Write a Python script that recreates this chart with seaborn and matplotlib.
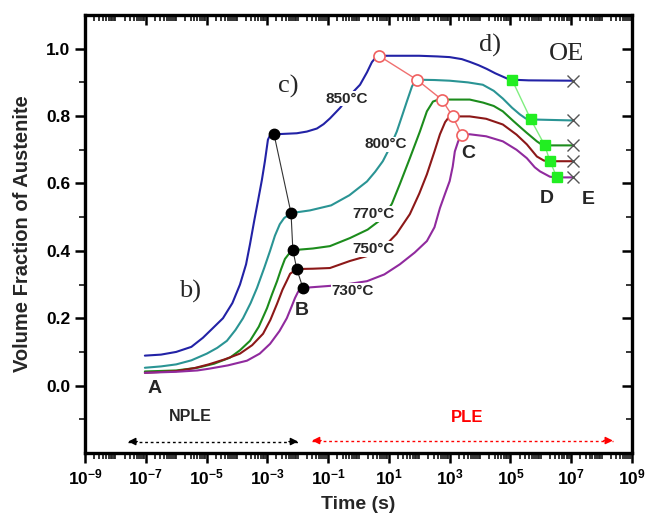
import numpy as np
import pandas as pd
import matplotlib
matplotlib.use("Agg")
import matplotlib.pyplot as plt
import seaborn as sns
from matplotlib.ticker import FixedLocator, FuncFormatter, NullFormatter

# ---------------- data (log10 of time in s, volume fraction) ----------------
temps = ["850", "800", "770", "750", "730"]

logt_850 = [-7.03, -6.5, -6.0, -5.5, -5.12, -4.8, -4.46, -4.15, -3.9, -3.7, -3.57, -3.43, -3.31,
            -3.18, -3.08, -2.98, -2.9, -2.78, -2.5, -2.03, -1.7, -1.37, -1.15, -0.94, -0.6, -0.3,
            0.05, 0.28, 0.44, 0.55, 0.67, 1.36, 2.0, 2.6, 3.0, 3.4, 3.66, 3.95, 4.22, 4.5, 4.75,
            4.9, 5.05, 5.6, 7.05]
v_850 = [0.089, 0.092, 0.100, 0.115, 0.142, 0.17, 0.20, 0.245, 0.30, 0.36, 0.42, 0.49, 0.547,
         0.61, 0.666, 0.73, 0.745, 0.746, 0.747, 0.749, 0.754, 0.763, 0.776, 0.793, 0.825, 0.86,
         0.893, 0.93, 0.96, 0.972, 0.979, 0.979, 0.979, 0.977, 0.975, 0.969, 0.961, 0.951, 0.94,
         0.927, 0.917, 0.911, 0.908, 0.906, 0.905]

logt_800 = [-7.03, -6.5, -6.0, -5.5, -4.99, -4.65, -4.33, -4.05, -3.8, -3.55, -3.34, -3.1, -2.91,
            -2.75, -2.59, -2.45, -2.36, -2.22, -1.6, -0.9, -0.3, 0.28, 0.55, 0.8, 1.05, 1.26, 1.45,
            1.59, 1.76, 1.85, 1.92, 2.5, 3.0, 3.6, 4.09, 4.45, 4.75, 5.05, 5.31, 5.5, 5.67, 7.05]
v_800 = [0.053, 0.057, 0.063, 0.075, 0.095, 0.112, 0.133, 0.165, 0.2, 0.245, 0.29, 0.35, 0.4,
         0.445, 0.479, 0.497, 0.503, 0.512, 0.52, 0.535, 0.565, 0.606, 0.635, 0.666, 0.71, 0.754,
         0.805, 0.843, 0.888, 0.902, 0.908, 0.907, 0.905, 0.9, 0.893, 0.875, 0.852, 0.825, 0.805,
         0.793, 0.79, 0.787]

logt_770 = [-7.03, -6.0, -5.3, -4.75, -4.23, -3.9, -3.57, -3.28, -3.01, -2.85, -2.68, -2.55, -2.42,
            -2.3, -2.16, -1.5, -0.94, -0.28, 0.3, 0.8, 1.1, 1.36, 1.69, 2.02, 2.25, 2.45, 2.6, 2.74,
            3.66, 4.1, 4.45, 4.75, 5.1, 5.35, 5.54, 5.87, 6.0, 6.13, 7.05]
v_770 = [0.042, 0.045, 0.053, 0.065, 0.083, 0.105, 0.133, 0.175, 0.23, 0.27, 0.31, 0.345, 0.376,
         0.39, 0.402, 0.407, 0.414, 0.438, 0.463, 0.497, 0.54, 0.598, 0.675, 0.754, 0.814, 0.843,
         0.848, 0.849, 0.849, 0.84, 0.83, 0.814, 0.785, 0.765, 0.75, 0.725, 0.717, 0.713, 0.713]

logt_750 = [-7.03, -6.0, -5.4, -4.93, -4.4, -3.9, -3.5, -3.14, -2.9, -2.68, -2.5, -2.36, -2.25,
            -2.03, -1.5, -0.94, -0.28, 0.3, 0.8, 1.25, 1.69, 2.0, 2.25, 2.5, 2.68, 2.85, 2.95, 3.1,
            3.66, 4.2, 4.75, 5.2, 5.54, 5.87, 6.1, 6.3, 7.05]
v_750 = [0.038, 0.043, 0.052, 0.063, 0.078, 0.095, 0.12, 0.154, 0.195, 0.243, 0.285, 0.311, 0.332,
         0.346, 0.347, 0.349, 0.37, 0.385, 0.408, 0.45, 0.509, 0.57, 0.627, 0.695, 0.746, 0.782,
         0.794, 0.799, 0.799, 0.792, 0.775, 0.745, 0.716, 0.68, 0.668, 0.666, 0.666]

logt_730 = [-7.03, -6.0, -5.3, -4.93, -4.3, -3.67, -3.25, -2.91, -2.6, -2.36, -2.2, -2.09, -1.98,
            -1.83, -0.94, -0.3, 0.28, 0.85, 1.36, 1.85, 2.25, 2.5, 2.68, 2.85, 3.0, 3.1, 3.17, 3.28,
            3.4, 3.66, 4.2, 4.75, 5.2, 5.54, 5.8, 5.97, 6.3, 6.53, 7.05]
v_730 = [0.038, 0.041, 0.045, 0.05, 0.06, 0.074, 0.095, 0.124, 0.162, 0.2, 0.235, 0.26, 0.28,
         0.29, 0.296, 0.302, 0.31, 0.33, 0.36, 0.395, 0.429, 0.47, 0.527, 0.57, 0.607, 0.65, 0.695,
         0.725, 0.743, 0.746, 0.74, 0.725, 0.70, 0.675, 0.648, 0.636, 0.62, 0.618, 0.618]

# characteristic points
B_logt = [-2.78, -2.22, -2.16, -2.03, -1.83]
B_v = [0.746, 0.512, 0.402, 0.346, 0.29]
C_logt = [0.67, 1.92, 2.74, 3.1, 3.4]
C_v = [0.979, 0.908, 0.849, 0.799, 0.743]
D_logt = [5.05, 5.67, 6.13, 6.3, 6.53]
D_v = [0.908, 0.79, 0.713, 0.666, 0.618]
E_logt = [7.05, 7.05, 7.05, 7.05, 7.05]
E_v = [0.905, 0.787, 0.713, 0.666, 0.618]

temp_labels = ["850°C", "800°C", "770°C", "750°C", "730°C"]
x_tick_exps = [-9, -7, -5, -3, -1, 1, 3, 5, 7, 9]
y_ticks = [0.0, 0.2, 0.4, 0.6, 0.8, 1.0]

colors = {"850": "#2222a6", "800": "#2a9494", "770": "#1c8c1c", "750": "#8c1818", "730": "#902a9e"}

# ---------------- build table ----------------
series = {"850": (logt_850, v_850), "800": (logt_800, v_800), "770": (logt_770, v_770),
          "750": (logt_750, v_750), "730": (logt_730, v_730)}
rows = []
for k in temps:
    lt, vv = series[k]
    for a, b in zip(lt, vv):
        rows.append({"time": 10.0 ** a, "frac": b, "temp": k})
df = pd.DataFrame(rows)

sns.set_style("ticks")
plt.rcParams["font.family"] = ["Liberation Sans", "DejaVu Sans"]
plt.rcParams["font.weight"] = "bold"
plt.rcParams["mathtext.fontset"] = "custom"
plt.rcParams["mathtext.rm"] = "Liberation Sans:bold"
plt.rcParams["mathtext.bf"] = "Liberation Sans:bold"
plt.rcParams["mathtext.it"] = "Liberation Sans:bold"

fig = plt.figure(figsize=(6.45, 5.17), dpi=100)
ax = fig.add_axes([85 / 645, 1 - 453 / 517, (632 - 85) / 645, (453 - 15) / 517])

sns.lineplot(data=df, x="time", y="frac", hue="temp", palette=colors, estimator=None,
             sort=False, legend=False, lw=1.5, ax=ax, zorder=2)
ax.set_xscale("log")

def tt(lst):
    return [10.0 ** a for a in lst]

# connector lines
ax.plot(tt(B_logt), B_v, color="#333333", lw=0.8, zorder=3)
ax.plot(tt(C_logt), C_v, color="#f07070", lw=1.0, zorder=3)
ax.plot(tt(D_logt), D_v, color="#80ee80", lw=1.0, zorder=3)

# markers
ax.plot(tt(B_logt), B_v, ls="none", marker="o", ms=7.5, color="black", zorder=5)
ax.plot(tt(C_logt), C_v, ls="none", marker="o", ms=8, mfc="white", mec="#f06060", mew=1.2, zorder=5)
ax.plot(tt(D_logt), D_v, ls="none", marker="s", ms=7, color="#22ee22", zorder=5)
ax.plot(tt(E_logt), E_v, ls="none", marker="x", ms=8, color="#555555", mew=1.0, zorder=5)

# axes limits / ticks
ax.set_xlim(1e-9, 1e9)
ax.set_ylim(-0.2, 1.1)
ax.xaxis.set_major_locator(FixedLocator([10.0 ** e for e in x_tick_exps]))
minors = []
for e in range(-9, 9):
    for m in range(1, 10):
        v = m * 10.0 ** e
        if not (m == 1 and e in x_tick_exps):
            minors.append(v)
ax.xaxis.set_minor_locator(FixedLocator(minors))
ax.xaxis.set_major_formatter(FuncFormatter(lambda v, p: r"$\mathbf{10^{%d}}$" % round(np.log10(v))))
ax.xaxis.set_minor_formatter(NullFormatter())
ax.yaxis.set_major_locator(FixedLocator(y_ticks))
ax.yaxis.set_minor_locator(FixedLocator([-0.1, 0.1, 0.3, 0.5, 0.7, 0.9]))
ax.yaxis.set_major_formatter(FuncFormatter(lambda v, p: "%.1f" % v))

for s in ax.spines.values():
    s.set_linewidth(2.4)
    s.set_color("black")
ax.tick_params(axis="both", which="major", labelsize=12.5, width=1.8, length=7, colors="black")
ax.tick_params(axis="both", which="minor", width=1.3, length=4)
ax.tick_params(axis="x", which="both", bottom=True, top=True, direction="out")
ax.tick_params(axis="y", which="both", left=True, right=True, direction="out")
for t in ax.xaxis.get_major_ticks() + ax.xaxis.get_minor_ticks():
    t.tick2line.set_marker(3)  # top ticks pointing inward
for t in ax.yaxis.get_major_ticks() + ax.yaxis.get_minor_ticks():
    t.tick2line.set_marker(0)  # right ticks pointing inward
for lab in ax.get_yticklabels():
    lab.set_fontweight("bold")

ax.set_xlabel("Time (s)", fontsize=14, fontweight="bold", labelpad=6)
ax.set_ylabel("Volume Fraction of Austenite", fontsize=14.5, fontweight="bold", labelpad=10)

# temperature labels
lab_pos = [(-0.38, 0.852), (0.90, 0.716), (0.51, 0.509), (0.51, 0.405), (-0.18, 0.281)]
for txt, (lx, ly) in zip(temp_labels, lab_pos):
    ax.text(10.0 ** lx, ly, txt, fontsize=11, fontweight="bold", ha="center", va="center",
            zorder=4, bbox=dict(facecolor="white", edgecolor="none", pad=0.5))

# point letters
for txt, lx, ly in [("A", -6.70, -0.009), ("B", -1.86, 0.222), ("C", 3.60, 0.689),
                    ("D", 6.20, 0.556), ("E", 7.55, 0.553)]:
    ax.text(10.0 ** lx, ly, txt, fontsize=14, fontweight="bold", ha="center", va="center")

# panel labels (serif)
for txt, lx, ly in [("b)", -5.55, 0.278), ("c)", -2.32, 0.888), ("d)", 4.33, 1.009), ("OE", 6.86, 0.985)]:
    ax.text(10.0 ** lx, ly, txt, fontsize=19, family="Liberation Serif", fontweight="normal",
            ha="center", va="center")

# NPLE / PLE regions
ax.text(10.0 ** -5.55, -0.092, "NPLE", fontsize=11.5, fontweight="bold", ha="center", va="center")
ax.text(10.0 ** 3.57, -0.095, "PLE", fontsize=12, fontweight="bold", color="red", ha="center", va="center")

def dbl_arrow(x1, x2, y, color):
    ax.plot([10.0 ** x1, 10.0 ** x2], [y, y], color=color, lw=1.0, ls=(0, (2, 2)))
    for tip, back in [(x1, x1 + 0.3), (x2, x2 - 0.3)]:
        ax.annotate("", xy=(10.0 ** tip, y), xytext=(10.0 ** back, y),
                    arrowprops=dict(arrowstyle="-|>", color=color, lw=1.0, mutation_scale=11,
                                    shrinkA=0, shrinkB=0))

dbl_arrow(-7.58, -1.99, -0.166, "black")
dbl_arrow(-1.53, 8.37, -0.163, "red")

fig.savefig("out.png", dpi=100)
